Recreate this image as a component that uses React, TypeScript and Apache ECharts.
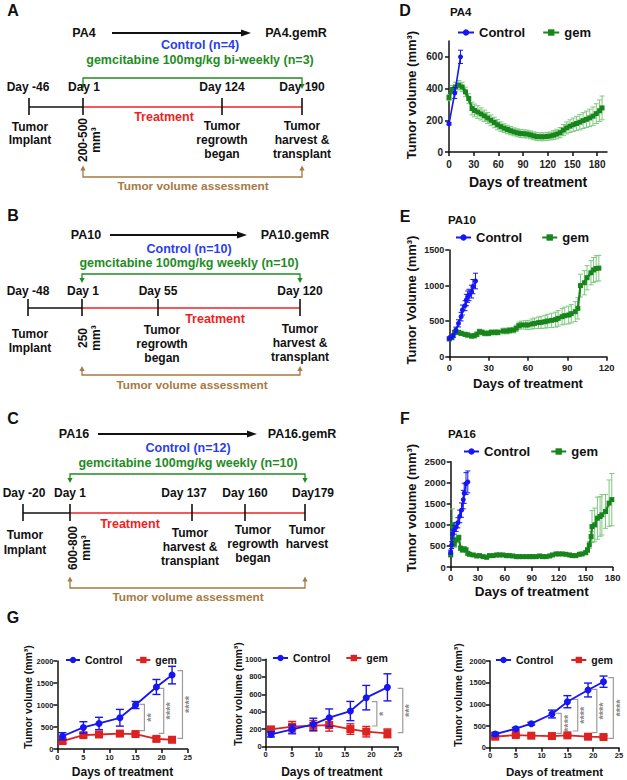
import React, { useEffect, useRef } from "react";
import * as echarts from "echarts";

// ---------- Panel D (PA4) ----------
const dCtrlDays = [0, 7, 14];
const dCtrlVals = [178, 372, 600];
const dCtrlErr = [8, 35, 42];
const dGemDays = [0, 4, 8, 12, 16, 20, 24, 28, 31, 35, 39, 43, 47, 51, 55, 59, 63, 67, 71, 75, 79, 83, 87, 91, 95, 99, 103, 107, 111, 115, 119, 123, 127, 131, 135, 139, 143, 147, 151, 155, 159, 163, 167, 171, 175, 179, 183, 186];
const dGemVals = [343, 394, 410, 421, 410, 379, 337, 274, 262, 252, 240, 228, 214, 200, 186, 172, 160, 150, 142, 134, 127, 121, 117, 115, 113, 108, 102, 97, 96, 96, 98, 101, 106, 113, 122, 138, 152, 163, 172, 180, 188, 198, 206, 215, 226, 242, 260, 278];
const dGemErr = [20, 25, 30, 30, 30, 30, 30, 40, 40, 40, 38, 36, 35, 34, 33, 32, 30, 28, 27, 26, 25, 25, 25, 25, 25, 25, 25, 25, 25, 25, 25, 25, 28, 30, 32, 35, 38, 40, 42, 45, 48, 50, 52, 55, 58, 62, 68, 75];
const dXTicks = [0, 30, 60, 90, 120, 150, 180];
const dYTicks = [0, 200, 400, 600];

// ---------- Panel E (PA10) ----------
const eCtrlDays = [0, 1, 3, 5, 7, 9, 10, 12, 13, 14, 15, 17, 18, 20];
const eCtrlVals = [258, 272, 295, 375, 469, 563, 656, 717, 797, 844, 868, 915, 985, 1064];
const eCtrlErr = [20, 20, 25, 40, 50, 60, 70, 70, 80, 80, 80, 90, 100, 110];
const eGemDays = [0, 2, 4, 7, 9, 12, 14, 17, 19, 21, 23, 25, 27, 30, 32, 35, 37, 41, 44, 46, 49, 51, 53, 55, 58, 60, 63, 65, 68, 70, 73, 75, 78, 81, 83, 86, 88, 91, 93, 96, 98, 100, 103, 105, 108, 110, 112, 114];
const eGemVals = [249, 267, 342, 342, 328, 314, 305, 291, 295, 314, 352, 342, 328, 328, 342, 342, 342, 361, 361, 370, 375, 399, 436, 446, 446, 446, 460, 469, 478, 483, 492, 502, 511, 521, 539, 563, 577, 586, 605, 633, 680, 1000, 1040, 1110, 1180, 1220, 1240, 1245];
const eGemErr = [20, 25, 30, 30, 30, 30, 30, 30, 30, 35, 35, 35, 35, 35, 35, 35, 35, 40, 40, 40, 40, 45, 50, 55, 60, 65, 70, 75, 80, 85, 90, 95, 100, 105, 110, 115, 120, 125, 130, 140, 150, 160, 170, 170, 170, 175, 180, 180];
const eXTicks = [0, 30, 60, 90, 120];
const eYTicks = [0, 500, 1000, 1500];

// ---------- Panel F (PA16) ----------
const fCtrlDays = [0, 1, 2, 4, 6, 8, 10, 12, 14, 15, 17, 19];
const fCtrlVals = [350, 520, 780, 880, 950, 1050, 1200, 1350, 1600, 1750, 1980, 2020];
const fCtrlErr = [50, 80, 100, 100, 110, 120, 150, 170, 220, 240, 260, 260];
const fGemDays = [0, 2, 4, 6, 9, 11, 13, 15, 17, 19, 21, 25, 29, 32, 36, 40, 43, 47, 51, 54, 58, 62, 65, 69, 73, 76, 80, 84, 88, 91, 95, 99, 102, 106, 110, 113, 117, 120, 124, 128, 132, 135, 139, 143, 146, 150, 152, 154, 156, 157, 160, 163, 166, 168, 172, 176, 179];
const fGemVals = [286, 1000, 540, 643, 699, 445, 405, 429, 405, 326, 302, 286, 262, 270, 246, 230, 270, 270, 286, 286, 286, 270, 270, 262, 246, 246, 246, 246, 246, 246, 246, 262, 246, 246, 262, 286, 310, 310, 310, 302, 286, 270, 270, 302, 310, 341, 405, 524, 722, 960, 1000, 1159, 1199, 1239, 1318, 1517, 1600];
const fGemErr = [30, 380, 80, 70, 60, 50, 50, 50, 50, 40, 40, 30, 30, 30, 30, 30, 30, 30, 30, 30, 30, 30, 30, 30, 30, 30, 30, 30, 30, 30, 30, 30, 30, 30, 30, 30, 30, 30, 30, 30, 30, 30, 40, 40, 40, 50, 60, 80, 120, 380, 400, 500, 470, 480, 400, 550, 620];
const fXTicks = [0, 30, 60, 90, 120, 150, 180];
const fYTicks = [0, 500, 1000, 1500, 2000, 2500];

// ---------- Panel G ----------
const g1Days = [1, 5, 8, 12, 15, 19, 22];
const g1Ctrl = [290, 490, 580, 710, 1000, 1410, 1680];
const g1CtrlErr = [80, 130, 140, 190, 80, 170, 200];
const g1Gem = [180, 315, 330, 350, 340, 230, 210];
const g1GemErr = [50, 50, 50, 50, 40, 50, 30];
const g1BrX = [16.7, 20.4, 24.0];
const g1BrLo = [417, 356, 242];
const g1BrHi = [1015, 1379, 1780];
const g1BrLab = ["**", "****", "****"];

const g2Days = [1, 5, 9, 12, 16, 19, 23];
const g2Ctrl = [141, 198, 256, 332, 408, 561, 679];
const g2CtrlErr = [30, 50, 70, 100, 110, 140, 155];
const g2Gem = [198, 229, 240, 248, 202, 172, 153];
const g2GemErr = [30, 60, 60, 70, 60, 60, 50];
const g2BrX = [21.0, 25.9];
const g2BrLo = [237, 160];
const g2BrHi = [515, 668];
const g2BrLab = ["*", "***"];

const g3Days = [1, 5, 8, 12, 15, 19, 22];
const g3Ctrl = [315, 438, 554, 777, 1061, 1331, 1523];
const g3CtrlErr = [40, 30, 30, 90, 140, 160, 130];
const g3Gem = [254, 292, 277, 269, 285, 254, 246];
const g3GemErr = [30, 30, 30, 30, 30, 30, 30];
const g3BrX = [13.8, 17.0, 20.7, 23.9];
const g3BrLo = [331, 385, 346, 215];
const g3BrHi = [792, 1115, 1346, 1615];
const g3BrLab = ["****", "****", "****", "****"];

const gXTicks = [0, 5, 10, 15, 20, 25];
const g13YTicks = [0, 500, 1000, 1500, 2000];
const g2YTicks = [0, 200, 400, 600, 800, 1000];

const FF = "Arial, 'Liberation Sans', Helvetica, sans-serif";
const BLUE = "#1616f2";
const TBLUE = "#2a3df0";
const GREEN = "#17851c";
const TGREEN = "#1f8c1f";
const GREEN_ERR = "#7dc97d";
const RED = "#dd2222";
const TRED = "#f01f1f";
const BROWN = "#a67a42";
const GREY = "#8c8c8c";

const zip2 = (a: number[], b: number[]) => a.map((v, i) => [v, b[i]]);
const zip3 = (a: number[], b: number[], c: number[]) => a.map((v, i) => [v, b[i], c[i]]);

const txt = (text: string, x: number, y: number, o: any = {}) => ({
  type: "text",
  x,
  y,
  rotation: o.rot || 0,
  silent: true,
  style: {
    text,
    fill: o.color || "#111",
    fontSize: o.fs || 12,
    fontWeight: o.weight || "bold",
    fontFamily: FF,
    align: o.align || "center",
    verticalAlign: "middle",
    textAlign: o.align || "center",
    textVerticalAlign: "middle",
    lineHeight: o.lh || 14,
  },
});
const ln = (x1: number, y1: number, x2: number, y2: number, color = "#111", w = 1.5) => ({
  type: "line",
  silent: true,
  shape: { x1, y1, x2, y2 },
  style: { stroke: color, lineWidth: w },
});
const poly = (points: number[][], color: string) => ({
  type: "polygon",
  silent: true,
  shape: { points },
  style: { fill: color },
});
const pline = (points: number[][], color: string, w = 1.3) => ({
  type: "polyline",
  silent: true,
  shape: { points },
  style: { stroke: color, fill: null, lineWidth: w },
});

function timelinePanel(p: any) {
  const els: any[] = [];
  els.push(txt(p.letter, 13, p.letterY, { fs: 16 }));
  els.push(txt(p.src, p.srcX, p.arrowY, { fs: 12.5 }));
  els.push(ln(p.arrowX1, p.arrowY, p.arrowX2 - 7, p.arrowY, "#111", 2.2));
  els.push(poly([[p.arrowX2, p.arrowY], [p.arrowX2 - 10, p.arrowY - 3.5], [p.arrowX2 - 10, p.arrowY + 3.5]], "#111"));
  els.push(txt(p.dst, p.dstX, p.arrowY, { fs: 12.5 }));
  els.push(txt(p.ctrl, p.ctrlX, p.ctrlY, { fs: 12.5, color: TBLUE }));
  els.push(txt(p.gem, p.ctrlX, p.gemY, { fs: 12.5, color: TGREEN }));
  // green bracket with down arrows
  els.push(pline([[p.bx1, p.gbTip - 4], [p.bx1, p.gbY], [p.bx2, p.gbY], [p.bx2, p.gbTip - 4]], TGREEN, 1.3));
  els.push(poly([[p.bx1 - 2.6, p.gbTip - 5], [p.bx1 + 2.6, p.gbTip - 5], [p.bx1, p.gbTip]], TGREEN));
  els.push(poly([[p.bx2 - 2.6, p.gbTip - 5], [p.bx2 + 2.6, p.gbTip - 5], [p.bx2, p.gbTip]], TGREEN));
  // day labels
  p.days.forEach((d: any) => els.push(txt(d[0], d[1], p.dayY, { fs: 12 })));
  // timeline
  els.push(ln(p.t0, p.tY, p.bx1, p.tY, "#111", 1.6));
  els.push(ln(p.bx1, p.tY, p.tEnd, p.tY, "#f02020", 1.6));
  p.ticks.forEach((x: number) => els.push(ln(x, p.tY - 9, x, p.tY + 8, "#111", 1.6)));
  els.push(txt("Treatment", p.treatX, p.treatY, { fs: 12.5, color: TRED }));
  // descriptions
  p.desc.forEach((d: any) => els.push(txt(d[0], d[1], d[2], { fs: 12, lh: d[3] || 14 })));
  els.push(txt(p.vol, p.volX, p.volY, { fs: 12, rot: Math.PI / 2, lh: 13 }));
  // brown bracket with up arrows
  els.push(pline([[p.bx1, p.bbTip + 4], [p.bx1, p.bbY], [p.bx2, p.bbY], [p.bx2, p.bbTip + 4]], BROWN, 1.3));
  els.push(poly([[p.bx1 - 2.6, p.bbTip + 5], [p.bx1 + 2.6, p.bbTip + 5], [p.bx1, p.bbTip]], BROWN));
  els.push(poly([[p.bx2 - 2.6, p.bbTip + 5], [p.bx2 + 2.6, p.bbTip + 5], [p.bx2, p.bbTip]], BROWN));
  els.push(txt("Tumor volume assessment", p.tvaX, p.tvaY, { fs: 11.8, color: BROWN }));
  return els;
}

const errRender = (color: string, cap: number, lw: number) => (params: any, api: any) => {
  const x = api.value(0);
  const y = api.value(1);
  const e = api.value(2);
  const pt = api.coord([x, y + e]);
  const pb = api.coord([x, Math.max(0, y - e)]);
  const mk = (x1: number, y1: number, x2: number, y2: number) => ({
    type: "line",
    shape: { x1, y1, x2, y2 },
    style: { stroke: color, lineWidth: lw },
  });
  return {
    type: "group",
    silent: true,
    children: [
      mk(pt[0], pt[1], pb[0], pb[1]),
      mk(pt[0] - cap, pt[1], pt[0] + cap, pt[1]),
      mk(pb[0] - cap, pb[1], pb[0] + cap, pb[1]),
    ],
  };
};

const bracketRender = (labels: string[]) => (params: any, api: any) => {
  const x = api.value(0);
  const lo = api.value(1);
  const hi = api.value(2);
  const a = api.coord([x, hi]);
  const b = api.coord([x, lo]);
  return {
    type: "group",
    silent: true,
    children: [
      {
        type: "polyline",
        shape: { points: [[a[0] - 5, a[1]], [a[0], a[1]], [b[0], b[1]], [b[0] - 5, b[1]]] },
        style: { stroke: "#9c9c9c", lineWidth: 1.2, fill: null },
      },
      {
        type: "text",
        x: a[0] + 6.5,
        y: (a[1] + b[1]) / 2,
        rotation: Math.PI / 2,
        style: {
          text: labels[params.dataIndex],
          fill: GREY,
          textFill: GREY,
          fontSize: 11,
          fontWeight: "bold",
          fontFamily: FF,
          align: "center",
          verticalAlign: "middle",
        },
      },
    ],
  };
};

const plainNum = (v: number) => String(v);

function xAx(gi: number, max: number, ticks: number[], fs: number, nameFs: number, nameGap: number, margin: number) {
  return {
    type: "value",
    gridIndex: gi,
    min: 0,
    max,
    axisLine: { show: true, onZero: false, lineStyle: { color: "#111", width: 1.5 } },
    axisTick: { show: true, length: 4, customValues: ticks, lineStyle: { color: "#111", width: 1.5 } },
    axisLabel: { customValues: ticks, formatter: plainNum, fontSize: fs, fontWeight: "bold", color: "#222", fontFamily: FF, margin },
    splitLine: { show: false },
    name: "Days of treatment",
    nameLocation: "middle",
    nameGap,
    nameTextStyle: { fontSize: nameFs, fontWeight: "bold", color: "#111", fontFamily: FF },
  };
}
function yAx(gi: number, max: number, ticks: number[], fs: number, margin: number) {
  return {
    type: "value",
    gridIndex: gi,
    min: 0,
    max,
    axisLine: { show: true, onZero: false, lineStyle: { color: "#111", width: 1.5 } },
    axisTick: { show: true, length: 4, customValues: ticks, lineStyle: { color: "#111", width: 1.5 } },
    axisLabel: { customValues: ticks, formatter: plainNum, fontSize: fs, fontWeight: "bold", color: "#222", fontFamily: FF, margin },
    splitLine: { show: false },
  };
}

function panelSeries(gi: number, tag: string, ctrl: any, gem: any, st: any) {
  return [
    {
      type: "custom",
      name: "err_gem_" + tag,
      xAxisIndex: gi,
      yAxisIndex: gi,
      data: zip3(gem.d, gem.v, gem.e),
      renderItem: errRender(st.gemErrColor, st.cap, st.errW),
      itemStyle: { color: st.gemErrColor },
      z: 1,
      silent: true,
    },
    {
      type: "line",
      name: "gem_" + tag,
      xAxisIndex: gi,
      yAxisIndex: gi,
      data: zip2(gem.d, gem.v),
      symbol: "rect",
      symbolSize: st.gemSym,
      lineStyle: { color: st.gemColor, width: st.gemW },
      itemStyle: { color: st.gemColor },
      z: 2,
    },
    {
      type: "custom",
      name: "err_ctrl_" + tag,
      xAxisIndex: gi,
      yAxisIndex: gi,
      data: zip3(ctrl.d, ctrl.v, ctrl.e),
      renderItem: errRender(BLUE, st.cap, st.errW),
      itemStyle: { color: BLUE },
      z: 3,
      silent: true,
    },
    {
      type: "line",
      name: "Control_" + tag,
      xAxisIndex: gi,
      yAxisIndex: gi,
      data: zip2(ctrl.d, ctrl.v),
      symbol: "circle",
      symbolSize: st.ctrlSym,
      lineStyle: { color: BLUE, width: st.ctrlW },
      itemStyle: { color: BLUE },
      z: 4,
    },
  ];
}

function legendFor(tag: string, left: number, top: number, itemWidth: number, itemGap: number, fs: number) {
  return {
    data: ["Control_" + tag, "gem_" + tag],
    left,
    top,
    orient: "horizontal",
    itemWidth,
    itemHeight: 8,
    itemGap,
    selectedMode: false,
    padding: 0,
    formatter: (n: string) => n.split("_")[0],
    textStyle: { fontSize: fs, fontWeight: "bold", color: "#111", fontFamily: FF, padding: [0, 0, 0, 0] },
  };
}

export default function App() {
  const ref = useRef<HTMLDivElement>(null);
  useEffect(() => {
    if (!ref.current) return;
    const chart = echarts.init(ref.current, undefined, { renderer: "svg" });

    const graphics: any[] = [
      ...timelinePanel({
        letter: "A", letterY: 10, src: "PA4", srcX: 84, dst: "PA4.gemR", dstX: 296,
        arrowX1: 112, arrowX2: 251, arrowY: 33,
        ctrl: "Control (n=4)", ctrlX: 200, ctrlY: 44.5,
        gem: "gemcitabine 100mg/kg bi-weekly (n=3)", gemY: 60,
        bx1: 83, bx2: 302, gbY: 78, gbTip: 89,
        days: [["Day -46", 28], ["Day 1", 84], ["Day 124", 222], ["Day 190", 302]], dayY: 86.5,
        t0: 29, tY: 107, tEnd: 302, ticks: [29, 83, 222, 302],
        treatX: 164, treatY: 117,
        desc: [["Tumor\nImplant", 30, 133.5, 13.5], ["Tumor\nregrowth\nbegan", 222, 140], ["Tumor\nharvest &\ntransplant", 302, 140]],
        vol: "200-500\nmm³", volX: 89, volY: 140,
        bbTip: 165.5, bbY: 177, tvaX: 193, tvaY: 186,
      }),
      ...timelinePanel({
        letter: "B", letterY: 215, src: "PA10", srcX: 86, dst: "PA10.gemR", dstX: 295,
        arrowX1: 110, arrowX2: 247, arrowY: 235,
        ctrl: "Control (n=10)", ctrlX: 189, ctrlY: 249,
        gem: "gemcitabine 100mg/kg weekly (n=10)", gemY: 263,
        bx1: 82, bx2: 300, gbY: 274, gbTip: 283,
        days: [["Day -48", 28], ["Day 1", 83], ["Day 55", 158], ["Day 120", 300]], dayY: 291,
        t0: 28, tY: 308, tEnd: 300, ticks: [28, 82, 158, 300],
        treatX: 215, treatY: 319,
        desc: [["Tumor\nImplant", 30, 341, 13.5], ["Tumor\nregrowth\nbegan", 162, 344], ["Tumor\nharvest &\ntransplant", 300, 343]],
        vol: "250\nmm³", volX: 89, volY: 338,
        bbTip: 366, bbY: 375, tvaX: 192, tvaY: 385,
      }),
      ...timelinePanel({
        letter: "C", letterY: 418, src: "PA16", srcX: 74, dst: "PA16.gemR", dstX: 302,
        arrowX1: 98, arrowX2: 257, arrowY: 434,
        ctrl: "Control (n=12)", ctrlX: 188, ctrlY: 448,
        gem: "gemcitabine 100mg/kg weekly (n=10)", gemY: 463,
        bx1: 70, bx2: 305, gbY: 474, gbTip: 483,
        days: [["Day -20", 24], ["Day 1", 70], ["Day 137", 184], ["Day 160", 245], ["Day179", 313]], dayY: 493,
        t0: 23, tY: 513, tEnd: 305, ticks: [23, 70, 192, 245, 305],
        treatX: 130, treatY: 524,
        desc: [["Tumor\nImplant", 25, 542.5, 14.5], ["Tumor\nharvest &\ntransplant", 190, 547], ["Tumor\nregrowth\nbegan", 253, 544], ["Tumor\nharvest", 307, 537]],
        vol: "600-800\nmm³", volX: 79, volY: 548,
        bbTip: 576.5, bbY: 588, tvaX: 188, tvaY: 597,
      }),
      txt("D", 405, 10, { fs: 16 }),
      txt("E", 405, 216, { fs: 16 }),
      txt("F", 405, 418, { fs: 16 }),
      txt("G", 13, 617, { fs: 16 }),
      txt("PA4", 450, 12, { fs: 11.5, align: "left" }),
      txt("PA10", 448, 220, { fs: 11.5, align: "left" }),
      txt("PA16", 448, 434, { fs: 11.5, align: "left" }),
      txt("Tumor volume (mm³)", 411, 95, { fs: 13, rot: Math.PI / 2 }),
      txt("Tumor Volume (mm³)", 411, 300, { fs: 13, rot: Math.PI / 2 }),
      txt("Tumor volume (mm³)", 411, 508, { fs: 13, rot: Math.PI / 2 }),
      txt("Tumor volume (mm³)", 27.5, 697, { fs: 10.5, rot: Math.PI / 2 }),
      txt("Tumor volume (mm³)", 238, 694, { fs: 10.5, rot: Math.PI / 2 }),
      txt("Tumor volume (mm³)", 458, 695, { fs: 10.5, rot: Math.PI / 2 }),
    ];

    const bigStyle = (gemColor: string) => ({ gemColor, gemErrColor: GREEN_ERR, cap: 2.5, errW: 1, gemSym: 5, gemW: 2.6, ctrlSym: 5, ctrlW: 1.6 });
    const gStyle = { gemColor: RED, gemErrColor: RED, cap: 4, errW: 1.4, gemSym: 8, gemW: 1.8, ctrlSym: 7, ctrlW: 1.8 };

    const option: any = {
      animation: false,
      backgroundColor: "#ffffff",
      textStyle: { fontFamily: FF },
      grid: [
        { left: 449, top: 41, width: 158, height: 111 },
        { left: 449.3, top: 250, width: 157.4, height: 106.7 },
        { left: 450.7, top: 461.7, width: 162, height: 105.3 },
        { left: 57.3, top: 661, width: 130.4, height: 88 },
        { left: 265.7, top: 659.3, width: 132.3, height: 87.4 },
        { left: 490, top: 661, width: 129, height: 86.7 },
      ],
      xAxis: [
        xAx(0, 192, dXTicks, 10, 14, 23, 7),
        xAx(1, 120, eXTicks, 9.5, 13, 20, 6),
        xAx(2, 180, fXTicks, 9.5, 13.5, 17, 5),
        xAx(3, 25, gXTicks, 7.5, 12, 17, 4),
        xAx(4, 25, gXTicks, 7.5, 12, 19, 4),
        xAx(5, 25, gXTicks, 7.5, 11.5, 18, 4),
      ],
      yAxis: [
        yAx(0, 700, dYTicks, 10, 6),
        yAx(1, 1500, eYTicks, 9, 5),
        yAx(2, 2500, fYTicks, 9.5, 5),
        yAx(3, 2000, g13YTicks, 7.5, 4),
        yAx(4, 1000, g2YTicks, 7.5, 4),
        yAx(5, 2000, g13YTicks, 7.5, 4),
      ],
      legend: [
        legendFor("D", 457, 26, 16, 17, 13),
        legendFor("E", 455, 231, 15, 19, 13),
        legendFor("F", 463, 445, 15, 20, 13),
        legendFor("G1", 65, 654.5, 14, 13, 10.5),
        legendFor("G2", 272, 652.5, 15, 15, 10.5),
        legendFor("G3", 495, 654.5, 15, 17, 10.5),
      ],
      series: [
        ...panelSeries(0, "D", { d: dCtrlDays, v: dCtrlVals, e: dCtrlErr }, { d: dGemDays, v: dGemVals, e: dGemErr }, bigStyle(GREEN)),
        ...panelSeries(1, "E", { d: eCtrlDays, v: eCtrlVals, e: eCtrlErr }, { d: eGemDays, v: eGemVals, e: eGemErr }, { ...bigStyle(GREEN), gemW: 2.2 }),
        ...panelSeries(2, "F", { d: fCtrlDays, v: fCtrlVals, e: fCtrlErr }, { d: fGemDays, v: fGemVals, e: fGemErr }, { ...bigStyle(GREEN), gemW: 2.2 }),
        ...panelSeries(3, "G1", { d: g1Days, v: g1Ctrl, e: g1CtrlErr }, { d: g1Days, v: g1Gem, e: g1GemErr }, gStyle),
        ...panelSeries(4, "G2", { d: g2Days, v: g2Ctrl, e: g2CtrlErr }, { d: g2Days, v: g2Gem, e: g2GemErr }, gStyle),
        ...panelSeries(5, "G3", { d: g3Days, v: g3Ctrl, e: g3CtrlErr }, { d: g3Days, v: g3Gem, e: g3GemErr }, gStyle),
        { type: "custom", name: "br_G1", xAxisIndex: 3, yAxisIndex: 3, data: zip3(g1BrX, g1BrLo, g1BrHi), renderItem: bracketRender(g1BrLab), itemStyle: { color: GREY }, silent: true, clip: false },
        { type: "custom", name: "br_G2", xAxisIndex: 4, yAxisIndex: 4, data: zip3(g2BrX, g2BrLo, g2BrHi), renderItem: bracketRender(g2BrLab), itemStyle: { color: GREY }, silent: true, clip: false },
        { type: "custom", name: "br_G3", xAxisIndex: 5, yAxisIndex: 5, data: zip3(g3BrX, g3BrLo, g3BrHi), renderItem: bracketRender(g3BrLab), itemStyle: { color: GREY }, silent: true, clip: false },
      ],
      graphic: graphics,
    };

    chart.setOption(option);
    return () => chart.dispose();
  }, []);

  return (
    <div
      ref={ref}
      style={{ position: "absolute", left: 0, top: 0, width: 627, height: 780, background: "#fff" }}
    />
  );
}
